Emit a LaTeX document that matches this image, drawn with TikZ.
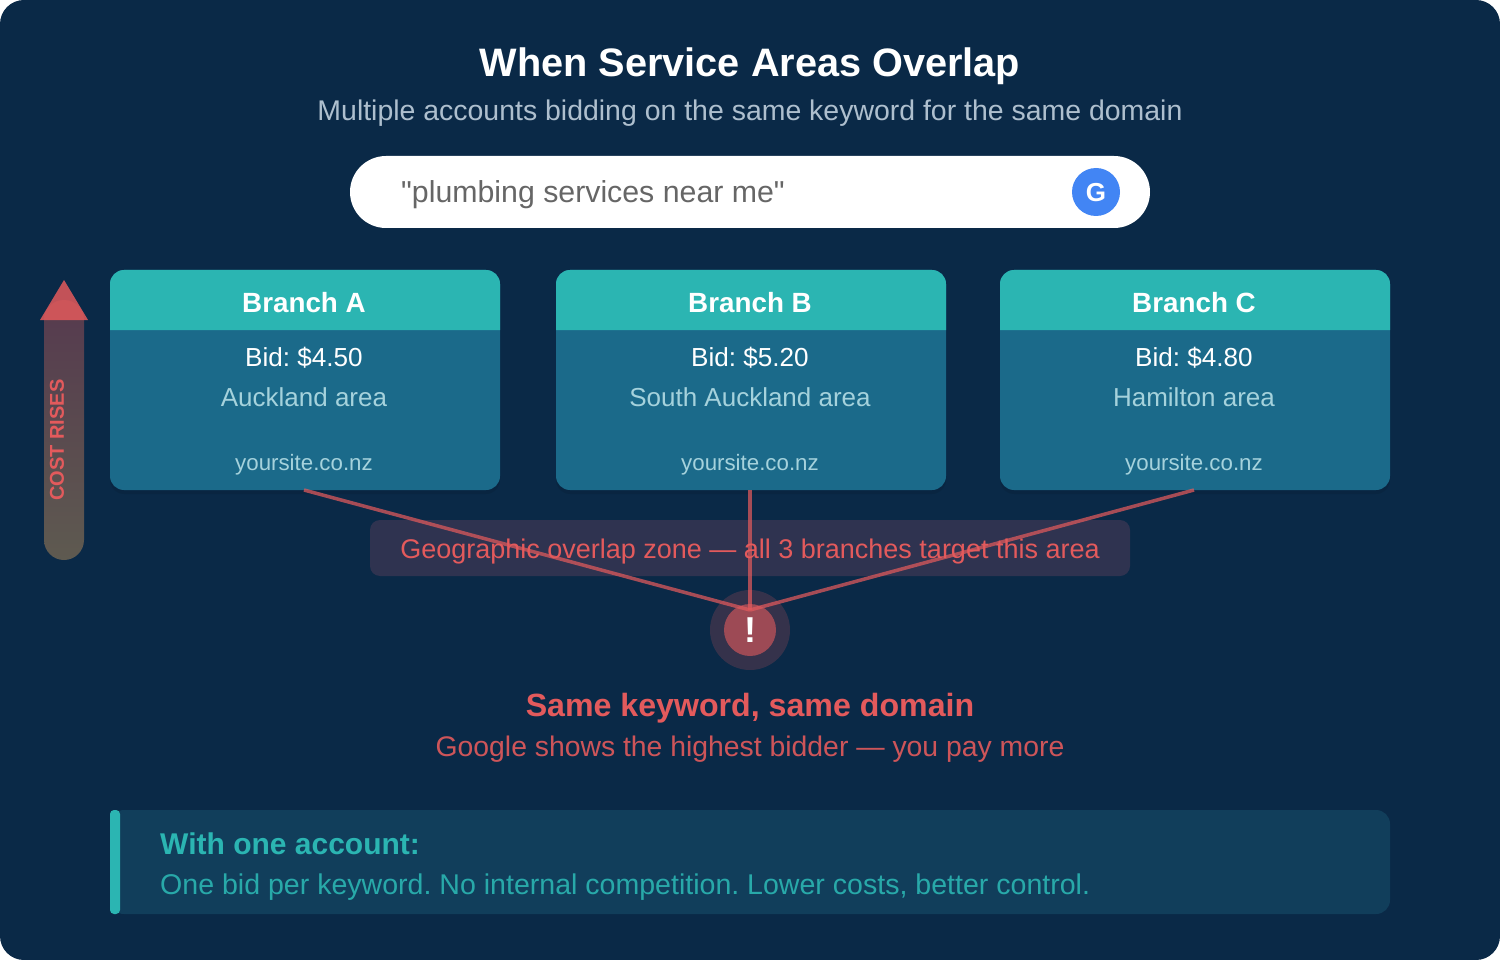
\documentclass[tikz,border=0pt]{standalone}
\usepackage{fontspec}
\setmainfont{Liberation Sans}
\newfontfamily\plainfont{Liberation Sans}
\usetikzlibrary{shapes,shadings,shadows}
\definecolor{navy}{HTML}{0A2947}
\definecolor{teal}{HTML}{2BB5B2}
\definecolor{cardblue}{HTML}{1B6A8A}
\definecolor{alert}{HTML}{E35A5C}
\definecolor{palebl}{HTML}{A5D2DC}
\definecolor{greyblue}{HTML}{AEBFCE}
\definecolor{notebg}{HTML}{113E5B}
\definecolor{bandbg}{HTML}{2F3350}
\definecolor{gblue}{HTML}{4285F4}
\definecolor{shaftlow}{HTML}{5E5A50}
\newcommand{\fsz}[1]{\fontsize{#1}{#1}\selectfont}
\frenchspacing
\tikzset{
  label/.style={anchor=base,inner sep=0pt},
  card/.style={fill=cardblue,rounded corners=14pt,minimum width=390pt,minimum height=220pt,inner sep=0pt,
    general shadow={shadow yshift=-4pt,fill=black,opacity=0.08,scale=1.02}},
  head/.style={label,font=\fsz{27.8}\bfseries,text=white},
  bid/.style={label,font=\fsz{26.1},text=white},
  area/.style={label,font=\fsz{26},text=palebl},
  site/.style={label,font=\fsz{22.3},text=palebl},
  link/.style={draw=alert,line width=3.5pt,opacity=0.72},
}
\begin{document}
\begin{tikzpicture}[x=1pt,y=-1pt]
	\fill [white] (0,0) rectangle (1500,960);
	\fill [navy,rounded corners=24pt] (0,0) rectangle (1500,960);
	% heading
	\node [label,font=\fsz{39.7}\bfseries,text=white] (title) at (750,77) {When Service Areas Overlap};
	\node [label,font=\fsz{28.45},text=greyblue] (subtitle) at (750,120.7) {Multiple accounts bidding on the same keyword for the same domain};
	% search bar
	\node [fill=white,rounded corners=36pt,minimum width=800pt,minimum height=72pt,inner sep=0pt] (search) at (750,192) {};
	\node [label,anchor=base west,font=\plainfont\fsz{30.3},text=black!60] (query) at (401,202.5) {"plumbing services near me"};
	\node [circle,fill=gblue,minimum size=48pt,inner sep=0pt] (gbadge) at (1096,192) {};
	\node [label,font=\fsz{26}\bfseries,text=white] (gtext) at (1096,202) {G};
	% cost arrow
	\path [top color=alert!35!navy,bottom color=shaftlow,rounded corners=20pt] (44,300) rectangle (84,560);
	\fill [alert,opacity=0.85] (64,280) -- (88,320) -- (40,320) -- cycle;
	\node [label,anchor=center,rotate=90,font=\fsz{20}\bfseries,text=alert] (cost) at (57,440) {COST RISES};
	% cards
	\node [card] (cardA) at (305,380) {};
	\node [card] (cardB) at (751,380) {};
	\node [card] (cardC) at (1195,380) {};
	\fill [teal] (110,330) [rounded corners=14pt] -- (110,270) -- (500,270) [sharp corners] -- (500,330) -- cycle;
	\fill [teal] (556,330) [rounded corners=14pt] -- (556,270) -- (946,270) [sharp corners] -- (946,330) -- cycle;
	\fill [teal] (1000,330) [rounded corners=14pt] -- (1000,270) -- (1390,270) [sharp corners] -- (1390,330) -- cycle;
	\node [head] (headA) at (304,312.5) {Branch A};
	\node [bid] (bidA) at (304,366) {Bid: \$4.50};
	\node [area] (areaA) at (304,406) {Auckland area};
	\node [site] (siteA) at (304,470) {yoursite.co.nz};
	\node [head] (headB) at (750,312.5) {Branch B};
	\node [bid] (bidB) at (750,366) {Bid: \$5.20};
	\node [area] (areaB) at (750,406) {South Auckland area};
	\node [site] (siteB) at (750,470) {yoursite.co.nz};
	\node [head] (headC) at (1194,312.5) {Branch C};
	\node [bid] (bidC) at (1194,366) {Bid: \$4.80};
	\node [area] (areaC) at (1194,406) {Hamilton area};
	\node [site] (siteC) at (1194,470) {yoursite.co.nz};
	% overlap band and alert
	\node [fill=bandbg,rounded corners=10pt,minimum width=760pt,minimum height=56pt,inner sep=0pt] (band) at (750,548) {};
	\node [label,font=\fsz{27},text=alert] (bandtext) at (750,558) {Geographic overlap zone — all 3 branches target this area};
	\node [circle,fill=alert,opacity=0.2,minimum size=80pt,inner sep=0pt] (halo) at (750,630) {};
	\node [circle,fill=alert,opacity=0.6,minimum size=52pt,inner sep=0pt] (dot) at (750,630) {};
	\coordinate (outA) at (304,490);
	\coordinate (outB) at (750,490);
	\coordinate (outC) at (1194,490);
	\coordinate (hit) at (750,610);
	\draw [link] (outA) -- (hit);
	\draw [link] (outB) -- (hit);
	\draw [link] (outC) -- (hit);
	\node [label,font=\fsz{36}\bfseries,text=white] (bang) at (750,642) {!};
	\node [label,font=\fsz{32.15}\bfseries,text=alert] (same) at (750,716) {Same keyword, same domain};
	\node [label,font=\fsz{28.35},text=alert,opacity=0.9] (shows) at (750,756) {Google shows the highest bidder — you pay more};
	% note box
	\node [fill=notebg,rounded corners=14pt,minimum width=1280pt,minimum height=104pt,inner sep=0pt] (note) at (750,862) {};
	\fill [teal,rounded corners=4pt] (110,810) rectangle (120,914);
	\node [label,anchor=base west,font=\fsz{30}\bfseries,text=teal] (notehead) at (160,854) {With one account:};
	\node [label,anchor=base west,font=\fsz{28.55},text=teal,opacity=0.9] (notebody) at (160,894) {One bid per keyword. No internal competition. Lower costs, better control.};
\end{tikzpicture}
\end{document}
